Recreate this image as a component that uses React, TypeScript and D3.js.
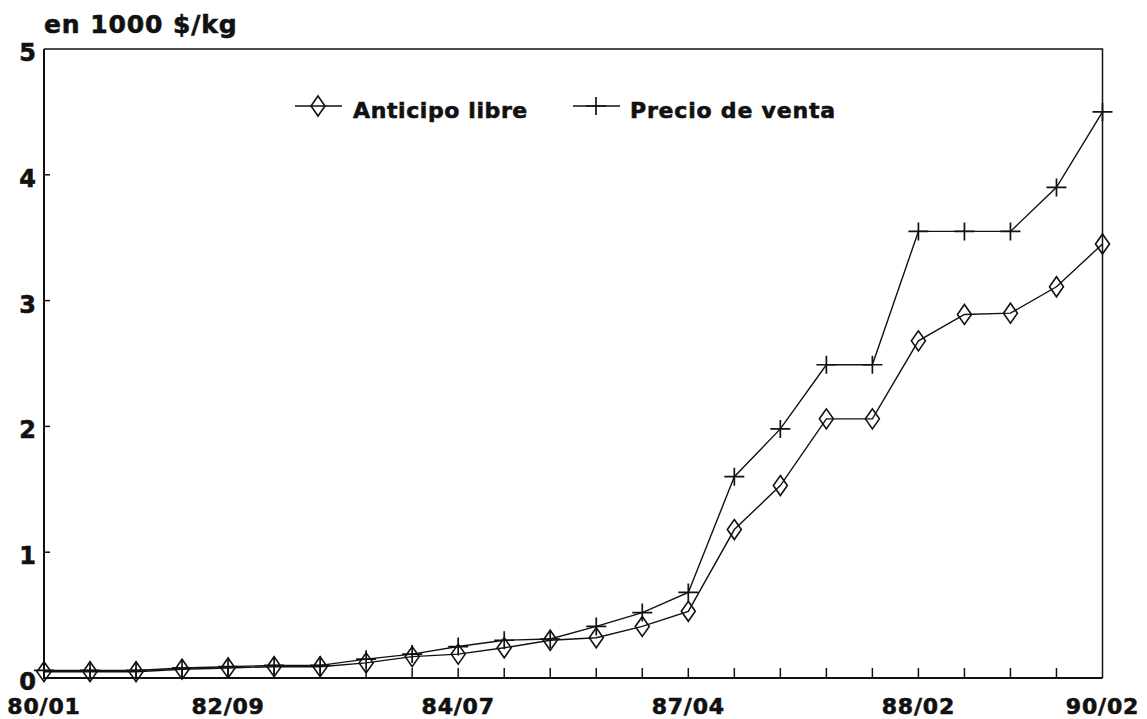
import * as d3 from 'd3';

// values in 1000 $/kg, one per period (categorical, evenly spaced)
const anticipo = [
  0.05, 0.05, 0.05, 0.07, 0.08, 0.09, 0.09, 0.12, 0.17, 0.19, 0.24, 0.3,
  0.32, 0.41, 0.53, 1.18, 1.53, 2.06, 2.06, 2.68, 2.89, 2.9, 3.11, 3.45,
];
const precio = [
  0.06, 0.06, 0.06, 0.08, 0.09, 0.1, 0.1, 0.15, 0.19, 0.25, 0.3, 0.31,
  0.41, 0.52, 0.68, 1.6, 1.98, 2.49, 2.49, 3.55, 3.55, 3.55, 3.9, 4.5,
];
const tickIndex = [0, 4, 9, 14, 19, 23];
const tickLabels = ['80/01', '82/09', '84/07', '87/04', '88/02', '90/02'];
const yTicks = [0, 1, 2, 3, 4, 5];
const seriesNames = ['Anticipo libre', 'Precio de venta'];

const W = 1147;
const H = 719;
const margin = { top: 49, right: 44, bottom: 41, left: 44 };
const font = '"DejaVu Sans", sans-serif';
const ink = '#111';

const diamond = 'M0,-10L7,0L0,10L-7,0Z';
const plus = 'M-10,0H10M0,-9V9';

// shared look for the heavy scanned lettering
const label = {
  fontFamily: font,
  fontWeight: 'bold' as const,
  fill: ink,
  stroke: ink,
  strokeWidth: 0.6,
};

export default function App() {
  const x = d3
    .scaleLinear()
    .domain([0, anticipo.length - 1])
    .range([margin.left, W - margin.right - 0.5]);
  const y = d3
    .scaleLinear()
    .domain([0, 5])
    .range([H - margin.bottom, margin.top]);

  const line = d3
    .line<number>()
    .x((_, i) => x(i))
    .y((d) => y(d));

  const [x0, x1] = x.range();
  const [y0, y1] = y.range();

  return (
    <svg
      width={W}
      height={H}
      style={{ position: 'absolute', left: 0, top: 0, background: '#fff' }}
    >
      <rect width={W} height={H} fill='#fff' />

      {/* title */}
      <text x={44} y={33} fontSize={25} letterSpacing={0.9} {...label}>
        en 1000 $/kg
      </text>

      {/* frame */}
      <path
        d={`M${x0},${y1}H${x1}V${y0}`}
        fill='none'
        stroke={ink}
        strokeWidth={1.5}
      />
      <path
        d={`M${x0},${y1}V${y0}H${x1}`}
        fill='none'
        stroke={ink}
        strokeWidth={2}
      />

      {/* y ticks */}
      {yTicks.map((t) => (
        <g key={t}>
          {t > 0 && t < 5 && (
            <line
              x1={x0}
              x2={x0 + 6}
              y1={y(t)}
              y2={y(t)}
              stroke={ink}
              strokeWidth={1.5}
            />
          )}
          <text
            x={36}
            y={y(t) + 12}
            textAnchor='end'
            fontSize={24}
            {...label}
          >
            {t}
          </text>
        </g>
      ))}

      {/* x ticks at every period */}
      {anticipo.map((_, i) =>
        i > 0 && i < anticipo.length - 1 ? (
          <line
            key={i}
            x1={x(i)}
            x2={x(i)}
            y1={y0}
            y2={y0 - 10}
            stroke={ink}
            strokeWidth={1.5}
          />
        ) : null
      )}
      {tickIndex.map((ti, k) => (
        <text
          key={ti}
          x={x(ti)}
          y={714}
          textAnchor='middle'
          fontSize={22}
          letterSpacing={0.8}
          {...label}
        >
          {tickLabels[k]}
        </text>
      ))}

      {/* series */}
      <path d={line(precio) ?? ''} fill='none' stroke={ink} strokeWidth={1.4} />
      <path
        d={line(anticipo) ?? ''}
        fill='none'
        stroke={ink}
        strokeWidth={1.4}
      />
      {precio.map((d, i) => (
        <path
          key={'p' + i}
          d={plus}
          transform={`translate(${x(i)},${y(d)})`}
          fill='none'
          stroke={ink}
          strokeWidth={1.7}
        />
      ))}
      {anticipo.map((d, i) => (
        <path
          key={'a' + i}
          d={diamond}
          transform={`translate(${x(i)},${y(d)})`}
          fill='none'
          stroke={ink}
          strokeWidth={1.6}
        />
      ))}

      {/* legend */}
      <g>
        <line x1={295} x2={342} y1={106} y2={106} stroke={ink} strokeWidth={1.6} />
        <path
          d={diamond}
          transform='translate(318,106)'
          fill='none'
          stroke={ink}
          strokeWidth={1.6}
        />
        <text x={353} y={118} fontSize={22} letterSpacing={0.6} {...label}>
          {seriesNames[0]}
        </text>
        <line x1={573} x2={620} y1={106} y2={106} stroke={ink} strokeWidth={1.6} />
        <path
          d={plus}
          transform='translate(596,106)'
          fill='none'
          stroke={ink}
          strokeWidth={1.7}
        />
        <text x={630} y={118} fontSize={22} letterSpacing={0.8} {...label}>
          {seriesNames[1]}
        </text>
      </g>
    </svg>
  );
}
